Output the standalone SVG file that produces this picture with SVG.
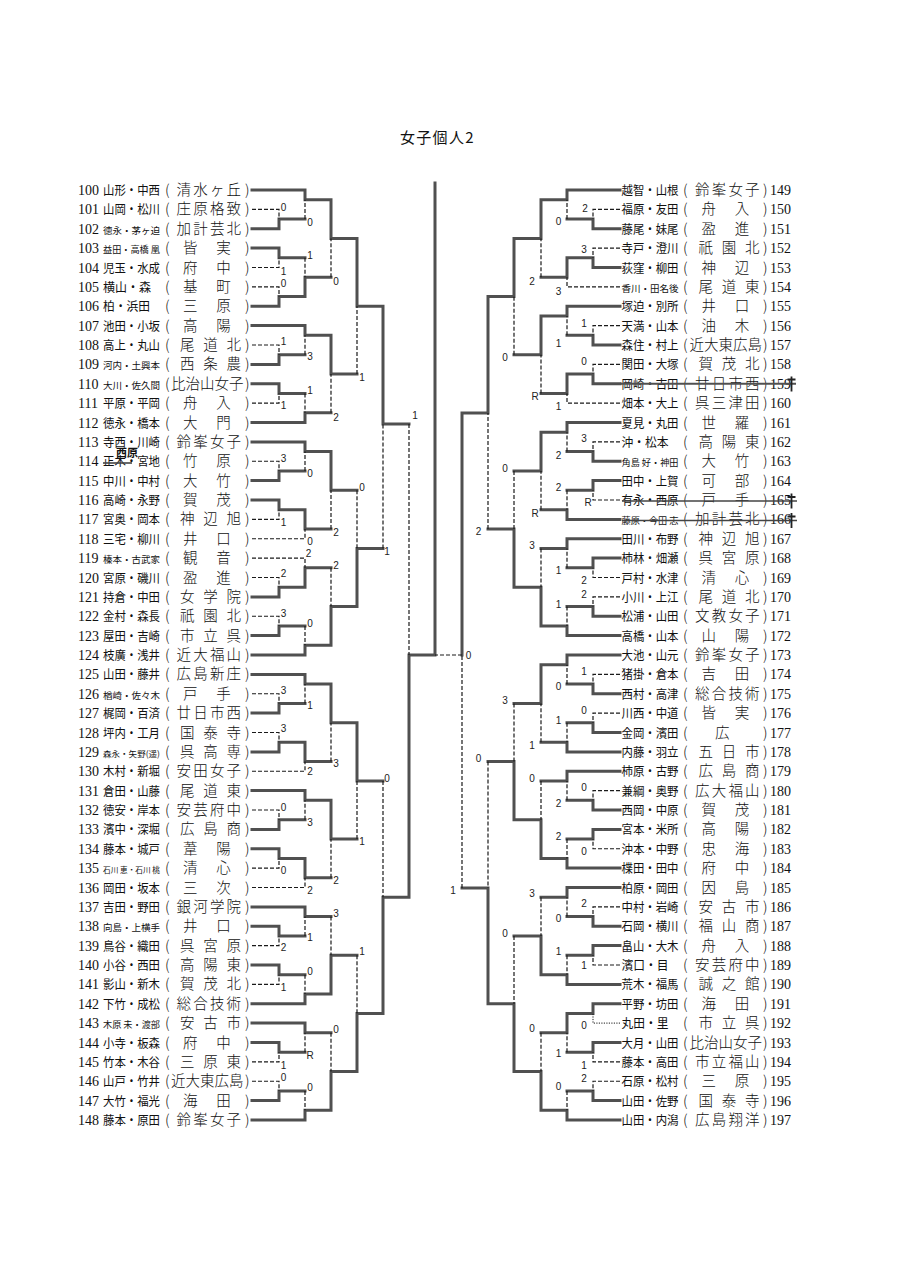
<svg xmlns="http://www.w3.org/2000/svg" width="905" height="1280" viewBox="0 0 905 1280">
<style>
.bg{fill:#fff}
.ttl{font-family:"Noto Sans CJK JP",sans-serif;font-size:15px;fill:#111;letter-spacing:1.3px}
.n{font-family:"Liberation Serif","Noto Sans CJK JP",serif;font-size:14px;fill:#111}
.nm{font-family:"Noto Sans CJK JP",sans-serif;font-size:12.5px;fill:#111}
.ns{font-family:"Noto Sans CJK JP",sans-serif;font-size:9.5px;fill:#111}
.ns2{font-family:"Noto Sans CJK JP",sans-serif;font-size:9px;fill:#111}
.ns3{font-family:"Noto Sans CJK JP",sans-serif;font-size:8.5px;fill:#111}
.ns4{font-family:"Noto Sans CJK JP",sans-serif;font-size:7.5px;fill:#111}
.sc{font-family:"Noto Sans CJK JP",sans-serif;font-size:14.5px;font-weight:300;fill:#111}
.sl{font-family:"Liberation Sans",Arial,sans-serif;font-size:10px;fill:#222;text-anchor:middle}
.w{fill:none;stroke:#505050;stroke-width:3;stroke-linecap:square}
.l{fill:none;stroke:#1a1a1a;stroke-width:1.2;stroke-dasharray:4 2}
.dt{fill:none;stroke:#1a1a1a;stroke-width:1;stroke-dasharray:1.2 1.3}
.st{fill:none;stroke:#444;stroke-width:1.6}
.mk{fill:none;stroke:#222;stroke-width:1.8}
.ann{font-family:"Noto Sans CJK JP",sans-serif;font-size:11px;font-weight:bold;fill:#111}
</style>
<rect class="bg" x="0" y="0" width="905" height="1280"/>
<text id="title" class="ttl" x="400" y="143">女子個人2</text>

<g id="connectors">
<path class="w" d="M252,228.75H279V219.06H305 M252,248.1H279V257.8H305 M252,306.25H279V296.6H305 M252,364.4H279V354.7H305 M252,383.75H279V393.4H305 M252,480.6H279V470.9H305 M252,500H279V509.7H305 M252,596.9H279V587.2H305 M252,635.6H279V625.9H305 M252,713.1H279V703.4H305 M252,751.9H279V742.2H305 M252,829.4H279V819.7H305 M252,848.75H279V858.4H305 M252,926.25H279V935.9H305 M252,965H279V974.7H305 M252,1042.5H279V1052.2H305 M252,1100.6H279V1090.9H305 M252,190H305V199.7H331 M305,296.6V277.2H331 M252,325.6H305V335.3H331 M252,422.5H305V412.8H331 M252,441.9H305V451.6H331 M305,509.7V529.1H331 M305,587.2V567.8H331 M252,655H305V645.3H331 M252,674.4H305V684.1H331 M305,742.2V761.6H331 M252,790.6H305V800.3H331 M305,858.4V877.8H331 M252,906.9H305V916.6H331 M252,1003.75H305V994.1H331 M252,1023.1H305V1032.8H331 M252,1120H305V1110.3H331 M331,199.7V238.4H357 M331,335.3V374.1H357 M331,451.6V490.3H357 M331,645.3V606.6H357 M331,684.1V722.8H357 M331,800.3V839.1H357 M331,994.1V955.3H357 M331,1110.3V1071.6H357 M357,238.4V306.2H383 M357,606.6V548.4H383 M357,722.8V781H383 M357,1071.6V1013.4H383 M383,306.2V424H409 M383,1013.4V897.2H409 M409,897.2V655H435 M435,655V183"/>
<path class="l" d="M252,209.4H279V219.06 M252,267.5H279V257.8 M252,286.9H279V296.6 M252,345H279V354.7 M252,403.1H279V393.4 M252,461.25H279V470.9 M252,519.4H279V509.7 M252,577.5H279V587.2 M252,616.25H279V625.9 M252,693.75H279V703.4 M252,732.5H279V742.2 M252,810H279V819.7 M252,868.1H279V858.4 M252,945.6H279V935.9 M252,984.4H279V974.7 M252,1061.9H279V1052.2 M252,1081.25H279V1090.9 M305,219.06V199.7 M305,257.8V277.2 M305,354.7V335.3 M305,393.4V412.8 M305,470.9V451.6 M252,538.75H305V529.1 M252,558.1H305V567.8 M305,625.9V645.3 M305,703.4V684.1 M252,771.25H305V761.6 M305,819.7V800.3 M252,887.5H305V877.8 M305,935.9V916.6 M305,974.7V994.1 M305,1052.2V1032.8 M305,1090.9V1110.3 M331,277.2V238.4 M331,412.8V374.1 M331,529.1V490.3 M331,567.8V606.6 M331,761.6V722.8 M331,877.8V839.1 M331,916.6V955.3 M331,1032.8V1071.6 M357,374.1V306.2 M357,490.3V548.4 M357,839.1V781 M357,955.3V1013.4 M383,548.4V424 M383,781V897.2 M409,424V655"/>
<path class="w" d="M620,228.75H593V219.06H567 M620,267.5H593V257.8H567 M620,345H593V335.3H567 M620,383.75H593V374.1H567 M620,461.25H593V451.6H567 M620,480.6H593V490.3H567 M620,558.1H593V567.8H567 M620,616.25H593V606.6H567 M620,693.75H593V684.1H567 M620,732.5H593V722.8H567 M620,810H593V800.3H567 M620,829.4H593V839.1H567 M620,926.25H593V916.6H567 M620,945.6H593V955.3H567 M620,1003.75H593V1013.4H567 M620,1042.5H593V1052.2H567 M620,1100.6H593V1090.9H567 M620,190H567V199.7H541 M567,257.8V277.2H541 M620,306.25H567V315.9H541 M567,374.1V393.4H541 M620,422.5H567V432.2H541 M620,519.4H567V509.7H541 M620,538.75H567V548.4H541 M620,635.6H567V625.9H541 M620,655H567V664.7H541 M620,751.9H567V742.2H541 M620,771.25H567V780.9H541 M620,868.1H567V858.4H541 M620,887.5H567V897.2H541 M620,984.4H567V974.7H541 M567,1013.4V1032.8H541 M620,1120H567V1110.3H541 M541,199.7V238.4H514 M541,315.9V354.7H514 M541,432.2V471H514 M541,625.9V587.2H514 M541,664.7V703.4H514 M541,858.4V819.7H514 M541,974.7V935.9H514 M541,1110.3V1071.6H514 M514,238.4V296.6H488 M514,587.2V529.1H488 M514,819.7V761.6H488 M514,1071.6V1003.75H488 M488,296.6V413H462 M488,1003.75V888H462 M462,413V655"/>
<path class="l" d="M620,209.4H593V219.06 M620,248.1H593V257.8 M620,325.6H593V335.3 M620,364.4H593V374.1 M620,441.9H593V451.6 M620,500H593V490.3 M620,577.5H593V567.8 M620,596.9H593V606.6 M620,674.4H593V684.1 M620,713.1H593V722.8 M620,790.6H593V800.3 M620,848.75H593V839.1 M620,906.9H593V916.6 M620,965H593V955.3 M620,1061.9H593V1052.2 M620,1081.25H593V1090.9 M567,219.06V199.7 M620,286.9H567V277.2 M567,335.3V315.9 M620,403.1H567V393.4 M567,451.6V432.2 M567,490.3V509.7 M567,567.8V548.4 M567,606.6V625.9 M567,684.1V664.7 M567,722.8V742.2 M567,800.3V780.9 M567,839.1V858.4 M567,916.6V897.2 M567,955.3V974.7 M567,1052.2V1032.8 M567,1090.9V1110.3 M541,277.2V238.4 M541,393.4V354.7 M541,509.7V471 M541,548.4V587.2 M541,742.2V703.4 M541,780.9V819.7 M541,897.2V935.9 M541,1032.8V1071.6 M514,354.7V296.6 M514,471V529.1 M514,703.4V761.6 M514,935.9V1003.75 M488,529.1V413 M488,761.6V888 M462,888V655 M462,655H435"/>
<path class="dt" d="M620,1023.1H593V1013.4"/>
</g>

<g id="scores">
<text class="sl" x="283.5" y="210.6">0</text><text class="sl" x="283.5" y="275.3">1</text><text class="sl" x="283.5" y="286.6">0</text><text class="sl" x="283.5" y="345.3">1</text><text class="sl" x="283.5" y="408.6">1</text><text class="sl" x="283.5" y="461.6">3</text><text class="sl" x="283.5" y="525.6">1</text><text class="sl" x="283.5" y="576.6">2</text><text class="sl" x="283.5" y="616.6">3</text><text class="sl" x="283.5" y="693.6">3</text><text class="sl" x="283.5" y="731.6">3</text><text class="sl" x="283.5" y="810.6">0</text><text class="sl" x="283.5" y="873.6">0</text><text class="sl" x="283.5" y="950.6">2</text><text class="sl" x="283.5" y="990.6">1</text><text class="sl" x="283.5" y="1068.6">1</text><text class="sl" x="283.5" y="1080.6">0</text>
<text class="sl" x="310" y="225.6">0</text><text class="sl" x="310" y="258.6">1</text><text class="sl" x="310" y="360.3">3</text><text class="sl" x="310" y="393.6">1</text><text class="sl" x="310" y="476.6">0</text><text class="sl" x="310" y="545.3">0</text><text class="sl" x="308.5" y="556.6">2</text><text class="sl" x="310" y="626.6">0</text><text class="sl" x="310" y="708.6">1</text><text class="sl" x="310" y="775.3">2</text><text class="sl" x="310" y="825.6">3</text><text class="sl" x="310" y="893.6">2</text><text class="sl" x="310" y="940.6">1</text><text class="sl" x="310" y="974.6">0</text><text class="sl" x="310" y="1058.6">R</text><text class="sl" x="310" y="1090.6">0</text>
<text class="sl" x="336" y="284.6">0</text><text class="sl" x="336" y="420.6">2</text><text class="sl" x="336" y="535.6">2</text><text class="sl" x="336" y="569.3">2</text><text class="sl" x="336" y="766.6">3</text><text class="sl" x="336" y="883.6">2</text><text class="sl" x="336" y="916.6">3</text><text class="sl" x="336" y="1032.6">0</text>
<text class="sl" x="362" y="380.6">1</text><text class="sl" x="362" y="490.6">0</text><text class="sl" x="362" y="845.3">1</text><text class="sl" x="362" y="955.3">1</text>
<text class="sl" x="387" y="555.3">1</text><text class="sl" x="387" y="781.6">0</text>
<text class="sl" x="415" y="418.6">1</text>
<text class="sl" x="585" y="211.6">2</text><text class="sl" x="584" y="252.6">3</text><text class="sl" x="584" y="326.9">1</text><text class="sl" x="584" y="365.3">0</text><text class="sl" x="584" y="441.9">3</text><text class="sl" x="588" y="506.3">R</text><text class="sl" x="584" y="583.6">2</text><text class="sl" x="584" y="597.9">2</text><text class="sl" x="584" y="674.6">1</text><text class="sl" x="584" y="713.6">0</text><text class="sl" x="584" y="791.3">0</text><text class="sl" x="584" y="855.3">0</text><text class="sl" x="584" y="906.9">2</text><text class="sl" x="584" y="968.6">1</text><text class="sl" x="584" y="1028.6">0</text><text class="sl" x="584" y="1068.6">1</text><text class="sl" x="584" y="1081.9">2</text>
<text class="sl" x="558.5" y="225.3">0</text><text class="sl" x="558.5" y="295.3">3</text><text class="sl" x="558.5" y="346.9">1</text><text class="sl" x="558.5" y="410.3">1</text><text class="sl" x="558.5" y="458.6">2</text><text class="sl" x="558.5" y="491.3">2</text><text class="sl" x="558.5" y="573.6">1</text><text class="sl" x="558.5" y="607.9">1</text><text class="sl" x="558.5" y="690.3">0</text><text class="sl" x="558.5" y="723.6">1</text><text class="sl" x="558.5" y="806.9">2</text><text class="sl" x="558.5" y="840.3">2</text><text class="sl" x="558.5" y="921.9">0</text><text class="sl" x="558.5" y="955.3">1</text><text class="sl" x="558.5" y="1056.9">1</text><text class="sl" x="558.5" y="1090.3">0</text>
<text class="sl" x="532" y="284.6">2</text><text class="sl" x="535" y="400.3">R</text><text class="sl" x="535" y="516.9">R</text><text class="sl" x="532" y="548.6">3</text><text class="sl" x="532" y="748.6">1</text><text class="sl" x="532" y="781.9">0</text><text class="sl" x="532" y="896.9">3</text><text class="sl" x="532" y="1031.9">0</text>
<text class="sl" x="505" y="360.9">0</text><text class="sl" x="505" y="471.9">0</text><text class="sl" x="505" y="703.6">3</text><text class="sl" x="505" y="936.9">0</text>
<text class="sl" x="478.5" y="535.3">2</text><text class="sl" x="478.5" y="761.9">0</text>
<text class="sl" x="453" y="893.6">1</text><text class="sl" x="468.5" y="659.3">0</text>
</g>

<g id="left-entries">
<g id="e100"><text class="n" x="78" y="195">100</text><text class="nm" x="103" y="195" textLength="57" lengthAdjust="spacingAndGlyphs">山形・中西</text><text class="sc" y="195"><tspan x="165">(</tspan><tspan x="176.5 193.2 209.9 226.6">清水ヶ丘</tspan><tspan x="245">)</tspan></text></g>
<g id="e101"><text class="n" x="78" y="214.4">101</text><text class="nm" x="103" y="214.4" textLength="57" lengthAdjust="spacingAndGlyphs">山岡・松川</text><text class="sc" y="214.4"><tspan x="165">(</tspan><tspan x="176.5 193.2 209.9 226.6">庄原格致</tspan><tspan x="245">)</tspan></text></g>
<g id="e102"><text class="n" x="78" y="233.75">102</text><text class="ns" x="103" y="233.75" textLength="57" lengthAdjust="spacingAndGlyphs">徳永・茅ヶ迫</text><text class="sc" y="233.75"><tspan x="165">(</tspan><tspan x="176.5 193.2 209.9 226.6">加計芸北</tspan><tspan x="245">)</tspan></text></g>
<g id="e103"><text class="n" x="78" y="253.1">103</text><text class="ns2" x="103" y="253.1" textLength="57" lengthAdjust="spacingAndGlyphs">益田・高橋 凰</text><text class="sc" y="253.1"><tspan x="165">(</tspan><tspan x="183 216.3">皆実</tspan><tspan x="245">)</tspan></text></g>
<g id="e104"><text class="n" x="78" y="272.5">104</text><text class="nm" x="103" y="272.5" textLength="57" lengthAdjust="spacingAndGlyphs">児玉・水成</text><text class="sc" y="272.5"><tspan x="165">(</tspan><tspan x="183 216.3">府中</tspan><tspan x="245">)</tspan></text></g>
<g id="e105"><text class="n" x="78" y="291.9">105</text><text class="nm" x="103" y="291.9" textLength="48" lengthAdjust="spacingAndGlyphs">横山・森</text><text class="sc" y="291.9"><tspan x="165">(</tspan><tspan x="183 216.3">基町</tspan><tspan x="245">)</tspan></text></g>
<g id="e106"><text class="n" x="78" y="311.25">106</text><text class="nm" x="103" y="311.25" textLength="47" lengthAdjust="spacingAndGlyphs">柏・浜田</text><text class="sc" y="311.25"><tspan x="165">(</tspan><tspan x="183 216.3">三原</tspan><tspan x="245">)</tspan></text></g>
<g id="e107"><text class="n" x="78" y="330.6">107</text><text class="nm" x="103" y="330.6" textLength="57" lengthAdjust="spacingAndGlyphs">池田・小坂</text><text class="sc" y="330.6"><tspan x="165">(</tspan><tspan x="183 216.3">高陽</tspan><tspan x="245">)</tspan></text></g>
<g id="e108"><text class="n" x="78" y="350">108</text><text class="nm" x="103" y="350" textLength="57" lengthAdjust="spacingAndGlyphs">高上・丸山</text><text class="sc" y="350"><tspan x="165">(</tspan><tspan x="180 203.3 226.6">尾道北</tspan><tspan x="245">)</tspan></text></g>
<g id="e109"><text class="n" x="78" y="369.4">109</text><text class="ns" x="103" y="369.4" textLength="57" lengthAdjust="spacingAndGlyphs">河内・土興本</text><text class="sc" y="369.4"><tspan x="165">(</tspan><tspan x="180 203.3 226.6">西条農</tspan><tspan x="245">)</tspan></text></g>
<g id="e110"><text class="n" x="78" y="388.75">110</text><text class="ns" x="103" y="388.75" textLength="57" lengthAdjust="spacingAndGlyphs">大川・佐久間</text><text class="sc" y="388.75"><tspan x="165">(</tspan><tspan x="171 185.5 200 214.5 229">比治山女子</tspan><tspan x="245">)</tspan></text></g>
<g id="e111"><text class="n" x="78" y="408.1">111</text><text class="nm" x="103" y="408.1" textLength="57" lengthAdjust="spacingAndGlyphs">平原・平岡</text><text class="sc" y="408.1"><tspan x="165">(</tspan><tspan x="183 216.3">舟入</tspan><tspan x="245">)</tspan></text></g>
<g id="e112"><text class="n" x="78" y="427.5">112</text><text class="nm" x="103" y="427.5" textLength="57" lengthAdjust="spacingAndGlyphs">徳永・橋本</text><text class="sc" y="427.5"><tspan x="165">(</tspan><tspan x="183 216.3">大門</tspan><tspan x="245">)</tspan></text></g>
<g id="e113"><text class="n" x="78" y="446.9">113</text><text class="nm" x="103" y="446.9" textLength="57" lengthAdjust="spacingAndGlyphs">寺西・川崎</text><text class="sc" y="446.9"><tspan x="165">(</tspan><tspan x="176.5 193.2 209.9 226.6">鈴峯女子</tspan><tspan x="245">)</tspan></text></g>
<g id="e114"><text class="n" x="78" y="466.25">114</text><text class="nm" x="103" y="466.25" textLength="57" lengthAdjust="spacingAndGlyphs">正木・宮地</text><text class="sc" y="466.25"><tspan x="165">(</tspan><tspan x="183 216.3">竹原</tspan><tspan x="245">)</tspan></text><path class="st" d="M103,463H132"/><text class="ann" x="116" y="456.5">西原</text></g>
<g id="e115"><text class="n" x="78" y="485.6">115</text><text class="nm" x="103" y="485.6" textLength="57" lengthAdjust="spacingAndGlyphs">中川・中村</text><text class="sc" y="485.6"><tspan x="165">(</tspan><tspan x="183 216.3">大竹</tspan><tspan x="245">)</tspan></text></g>
<g id="e116"><text class="n" x="78" y="505">116</text><text class="nm" x="103" y="505" textLength="57" lengthAdjust="spacingAndGlyphs">高崎・永野</text><text class="sc" y="505"><tspan x="165">(</tspan><tspan x="183 216.3">賀茂</tspan><tspan x="245">)</tspan></text></g>
<g id="e117"><text class="n" x="78" y="524.4">117</text><text class="nm" x="103" y="524.4" textLength="57" lengthAdjust="spacingAndGlyphs">宮奥・岡本</text><text class="sc" y="524.4"><tspan x="165">(</tspan><tspan x="180 203.3 226.6">神辺旭</tspan><tspan x="245">)</tspan></text></g>
<g id="e118"><text class="n" x="78" y="543.75">118</text><text class="nm" x="103" y="543.75" textLength="57" lengthAdjust="spacingAndGlyphs">三宅・柳川</text><text class="sc" y="543.75"><tspan x="165">(</tspan><tspan x="183 216.3">井口</tspan><tspan x="245">)</tspan></text></g>
<g id="e119"><text class="n" x="78" y="563.1">119</text><text class="ns" x="103" y="563.1" textLength="57" lengthAdjust="spacingAndGlyphs">榛本・古武家</text><text class="sc" y="563.1"><tspan x="165">(</tspan><tspan x="183 216.3">観音</tspan><tspan x="245">)</tspan></text></g>
<g id="e120"><text class="n" x="78" y="582.5">120</text><text class="nm" x="103" y="582.5" textLength="57" lengthAdjust="spacingAndGlyphs">宮原・磯川</text><text class="sc" y="582.5"><tspan x="165">(</tspan><tspan x="183 216.3">盈進</tspan><tspan x="245">)</tspan></text></g>
<g id="e121"><text class="n" x="78" y="601.9">121</text><text class="nm" x="103" y="601.9" textLength="57" lengthAdjust="spacingAndGlyphs">持倉・中田</text><text class="sc" y="601.9"><tspan x="165">(</tspan><tspan x="180 203.3 226.6">女学院</tspan><tspan x="245">)</tspan></text></g>
<g id="e122"><text class="n" x="78" y="621.25">122</text><text class="nm" x="103" y="621.25" textLength="57" lengthAdjust="spacingAndGlyphs">金村・森長</text><text class="sc" y="621.25"><tspan x="165">(</tspan><tspan x="180 203.3 226.6">祇園北</tspan><tspan x="245">)</tspan></text></g>
<g id="e123"><text class="n" x="78" y="640.6">123</text><text class="nm" x="103" y="640.6" textLength="57" lengthAdjust="spacingAndGlyphs">屋田・吉崎</text><text class="sc" y="640.6"><tspan x="165">(</tspan><tspan x="180 203.3 226.6">市立呉</tspan><tspan x="245">)</tspan></text></g>
<g id="e124"><text class="n" x="78" y="660">124</text><text class="nm" x="103" y="660" textLength="57" lengthAdjust="spacingAndGlyphs">枝廣・浅井</text><text class="sc" y="660"><tspan x="165">(</tspan><tspan x="176.5 193.2 209.9 226.6">近大福山</tspan><tspan x="245">)</tspan></text></g>
<g id="e125"><text class="n" x="78" y="679.4">125</text><text class="nm" x="103" y="679.4" textLength="57" lengthAdjust="spacingAndGlyphs">山田・藤井</text><text class="sc" y="679.4"><tspan x="165">(</tspan><tspan x="176.5 193.2 209.9 226.6">広島新庄</tspan><tspan x="245">)</tspan></text></g>
<g id="e126"><text class="n" x="78" y="698.75">126</text><text class="ns" x="103" y="698.75" textLength="57" lengthAdjust="spacingAndGlyphs">楢崎・佐々木</text><text class="sc" y="698.75"><tspan x="165">(</tspan><tspan x="183 216.3">戸手</tspan><tspan x="245">)</tspan></text></g>
<g id="e127"><text class="n" x="78" y="718.1">127</text><text class="nm" x="103" y="718.1" textLength="57" lengthAdjust="spacingAndGlyphs">梶岡・百済</text><text class="sc" y="718.1"><tspan x="165">(</tspan><tspan x="176.5 193.2 209.9 226.6">廿日市西</tspan><tspan x="245">)</tspan></text></g>
<g id="e128"><text class="n" x="78" y="737.5">128</text><text class="nm" x="103" y="737.5" textLength="57" lengthAdjust="spacingAndGlyphs">坪内・工月</text><text class="sc" y="737.5"><tspan x="165">(</tspan><tspan x="180 203.3 226.6">国泰寺</tspan><tspan x="245">)</tspan></text></g>
<g id="e129"><text class="n" x="78" y="756.9">129</text><text class="ns3" x="103" y="756.9" textLength="57" lengthAdjust="spacingAndGlyphs">森永・矢野(遥)</text><text class="sc" y="756.9"><tspan x="165">(</tspan><tspan x="180 203.3 226.6">呉高専</tspan><tspan x="245">)</tspan></text></g>
<g id="e130"><text class="n" x="78" y="776.25">130</text><text class="nm" x="103" y="776.25" textLength="57" lengthAdjust="spacingAndGlyphs">木村・新堀</text><text class="sc" y="776.25"><tspan x="165">(</tspan><tspan x="176.5 193.2 209.9 226.6">安田女子</tspan><tspan x="245">)</tspan></text></g>
<g id="e131"><text class="n" x="78" y="795.6">131</text><text class="nm" x="103" y="795.6" textLength="57" lengthAdjust="spacingAndGlyphs">倉田・山藤</text><text class="sc" y="795.6"><tspan x="165">(</tspan><tspan x="180 203.3 226.6">尾道東</tspan><tspan x="245">)</tspan></text></g>
<g id="e132"><text class="n" x="78" y="815">132</text><text class="nm" x="103" y="815" textLength="57" lengthAdjust="spacingAndGlyphs">徳安・岸本</text><text class="sc" y="815"><tspan x="165">(</tspan><tspan x="176.5 193.2 209.9 226.6">安芸府中</tspan><tspan x="245">)</tspan></text></g>
<g id="e133"><text class="n" x="78" y="834.4">133</text><text class="nm" x="103" y="834.4" textLength="57" lengthAdjust="spacingAndGlyphs">濱中・深堀</text><text class="sc" y="834.4"><tspan x="165">(</tspan><tspan x="180 203.3 226.6">広島商</tspan><tspan x="245">)</tspan></text></g>
<g id="e134"><text class="n" x="78" y="853.75">134</text><text class="nm" x="103" y="853.75" textLength="57" lengthAdjust="spacingAndGlyphs">藤本・城戸</text><text class="sc" y="853.75"><tspan x="165">(</tspan><tspan x="183 216.3">葦陽</tspan><tspan x="245">)</tspan></text></g>
<g id="e135"><text class="n" x="78" y="873.1">135</text><text class="ns4" x="103" y="873.1" textLength="57" lengthAdjust="spacingAndGlyphs">石川 恵・石川 桃</text><text class="sc" y="873.1"><tspan x="165">(</tspan><tspan x="183 216.3">清心</tspan><tspan x="245">)</tspan></text></g>
<g id="e136"><text class="n" x="78" y="892.5">136</text><text class="nm" x="103" y="892.5" textLength="57" lengthAdjust="spacingAndGlyphs">岡田・坂本</text><text class="sc" y="892.5"><tspan x="165">(</tspan><tspan x="183 216.3">三次</tspan><tspan x="245">)</tspan></text></g>
<g id="e137"><text class="n" x="78" y="911.9">137</text><text class="nm" x="103" y="911.9" textLength="57" lengthAdjust="spacingAndGlyphs">吉田・野田</text><text class="sc" y="911.9"><tspan x="165">(</tspan><tspan x="176.5 193.2 209.9 226.6">銀河学院</tspan><tspan x="245">)</tspan></text></g>
<g id="e138"><text class="n" x="78" y="931.25">138</text><text class="ns" x="103" y="931.25" textLength="57" lengthAdjust="spacingAndGlyphs">向島・上横手</text><text class="sc" y="931.25"><tspan x="165">(</tspan><tspan x="183 216.3">井口</tspan><tspan x="245">)</tspan></text></g>
<g id="e139"><text class="n" x="78" y="950.6">139</text><text class="nm" x="103" y="950.6" textLength="57" lengthAdjust="spacingAndGlyphs">鳥谷・織田</text><text class="sc" y="950.6"><tspan x="165">(</tspan><tspan x="180 203.3 226.6">呉宮原</tspan><tspan x="245">)</tspan></text></g>
<g id="e140"><text class="n" x="78" y="970">140</text><text class="nm" x="103" y="970" textLength="57" lengthAdjust="spacingAndGlyphs">小谷・西田</text><text class="sc" y="970"><tspan x="165">(</tspan><tspan x="180 203.3 226.6">高陽東</tspan><tspan x="245">)</tspan></text></g>
<g id="e141"><text class="n" x="78" y="989.4">141</text><text class="nm" x="103" y="989.4" textLength="57" lengthAdjust="spacingAndGlyphs">影山・新木</text><text class="sc" y="989.4"><tspan x="165">(</tspan><tspan x="180 203.3 226.6">賀茂北</tspan><tspan x="245">)</tspan></text></g>
<g id="e142"><text class="n" x="78" y="1008.75">142</text><text class="nm" x="103" y="1008.75" textLength="57" lengthAdjust="spacingAndGlyphs">下竹・成松</text><text class="sc" y="1008.75"><tspan x="165">(</tspan><tspan x="176.5 193.2 209.9 226.6">総合技術</tspan><tspan x="245">)</tspan></text></g>
<g id="e143"><text class="n" x="78" y="1028.1">143</text><text class="ns2" x="103" y="1028.1" textLength="57" lengthAdjust="spacingAndGlyphs">木原 未・渡部</text><text class="sc" y="1028.1"><tspan x="165">(</tspan><tspan x="180 203.3 226.6">安古市</tspan><tspan x="245">)</tspan></text></g>
<g id="e144"><text class="n" x="78" y="1047.5">144</text><text class="nm" x="103" y="1047.5" textLength="57" lengthAdjust="spacingAndGlyphs">小寺・板森</text><text class="sc" y="1047.5"><tspan x="165">(</tspan><tspan x="183 216.3">府中</tspan><tspan x="245">)</tspan></text></g>
<g id="e145"><text class="n" x="78" y="1066.9">145</text><text class="nm" x="103" y="1066.9" textLength="57" lengthAdjust="spacingAndGlyphs">竹本・木谷</text><text class="sc" y="1066.9"><tspan x="165">(</tspan><tspan x="180 203.3 226.6">三原東</tspan><tspan x="245">)</tspan></text></g>
<g id="e146"><text class="n" x="78" y="1086.25">146</text><text class="nm" x="103" y="1086.25" textLength="57" lengthAdjust="spacingAndGlyphs">山戸・竹井</text><text class="sc" y="1086.25"><tspan x="165">(</tspan><tspan x="171 185.5 200 214.5 229">近大東広島</tspan><tspan x="245">)</tspan></text></g>
<g id="e147"><text class="n" x="78" y="1105.6">147</text><text class="nm" x="103" y="1105.6" textLength="57" lengthAdjust="spacingAndGlyphs">大竹・福光</text><text class="sc" y="1105.6"><tspan x="165">(</tspan><tspan x="183 216.3">海田</tspan><tspan x="245">)</tspan></text></g>
<g id="e148"><text class="n" x="78" y="1125">148</text><text class="nm" x="103" y="1125" textLength="57" lengthAdjust="spacingAndGlyphs">藤本・原田</text><text class="sc" y="1125"><tspan x="165">(</tspan><tspan x="176.5 193.2 209.9 226.6">鈴峯女子</tspan><tspan x="245">)</tspan></text></g>
</g>

<g id="right-entries">
<g id="e149"><text class="nm" x="621.5" y="195" textLength="57" lengthAdjust="spacingAndGlyphs">越智・山根</text><text class="sc" y="195"><tspan x="683">(</tspan><tspan x="695 711.7 728.4 745.1">鈴峯女子</tspan><tspan x="763">)</tspan></text><text class="n" x="770" y="195">149</text></g>
<g id="e150"><text class="nm" x="621.5" y="214.4" textLength="57" lengthAdjust="spacingAndGlyphs">福原・友田</text><text class="sc" y="214.4"><tspan x="683">(</tspan><tspan x="701.5 734.8">舟入</tspan><tspan x="763">)</tspan></text><text class="n" x="770" y="214.4">150</text></g>
<g id="e151"><text class="nm" x="621.5" y="233.75" textLength="57" lengthAdjust="spacingAndGlyphs">藤尾・妹尾</text><text class="sc" y="233.75"><tspan x="683">(</tspan><tspan x="701.5 734.8">盈進</tspan><tspan x="763">)</tspan></text><text class="n" x="770" y="233.75">151</text></g>
<g id="e152"><text class="nm" x="621.5" y="253.1" textLength="57" lengthAdjust="spacingAndGlyphs">寺戸・澄川</text><text class="sc" y="253.1"><tspan x="683">(</tspan><tspan x="698.5 721.8 745.1">祇園北</tspan><tspan x="763">)</tspan></text><text class="n" x="770" y="253.1">152</text></g>
<g id="e153"><text class="nm" x="621.5" y="272.5" textLength="57" lengthAdjust="spacingAndGlyphs">荻窪・柳田</text><text class="sc" y="272.5"><tspan x="683">(</tspan><tspan x="701.5 734.8">神辺</tspan><tspan x="763">)</tspan></text><text class="n" x="770" y="272.5">153</text></g>
<g id="e154"><text class="ns" x="621.5" y="291.9" textLength="57" lengthAdjust="spacingAndGlyphs">香川・田名後</text><text class="sc" y="291.9"><tspan x="683">(</tspan><tspan x="698.5 721.8 745.1">尾道東</tspan><tspan x="763">)</tspan></text><text class="n" x="770" y="291.9">154</text></g>
<g id="e155"><text class="nm" x="621.5" y="311.25" textLength="57" lengthAdjust="spacingAndGlyphs">塚迫・別所</text><text class="sc" y="311.25"><tspan x="683">(</tspan><tspan x="701.5 734.8">井口</tspan><tspan x="763">)</tspan></text><text class="n" x="770" y="311.25">155</text></g>
<g id="e156"><text class="nm" x="621.5" y="330.6" textLength="57" lengthAdjust="spacingAndGlyphs">天満・山本</text><text class="sc" y="330.6"><tspan x="683">(</tspan><tspan x="701.5 734.8">油木</tspan><tspan x="763">)</tspan></text><text class="n" x="770" y="330.6">156</text></g>
<g id="e157"><text class="nm" x="621.5" y="350" textLength="57" lengthAdjust="spacingAndGlyphs">森住・村上</text><text class="sc" y="350"><tspan x="683">(</tspan><tspan x="689.5 704 718.5 733 747.5">近大東広島</tspan><tspan x="763">)</tspan></text><text class="n" x="770" y="350">157</text></g>
<g id="e158"><text class="nm" x="621.5" y="369.4" textLength="57" lengthAdjust="spacingAndGlyphs">関田・大塚</text><text class="sc" y="369.4"><tspan x="683">(</tspan><tspan x="698.5 721.8 745.1">賀茂北</tspan><tspan x="763">)</tspan></text><text class="n" x="770" y="369.4">158</text></g>
<g id="e159"><text class="nm" x="621.5" y="388.75" textLength="57" lengthAdjust="spacingAndGlyphs">岡崎・古田</text><text class="sc" y="388.75"><tspan x="683">(</tspan><tspan x="695 711.7 728.4 745.1">廿日市西</tspan><tspan x="763">)</tspan></text><text class="n" x="770" y="388.75">159</text><path class="w" d="M620,383.75H796" style="stroke-width:2;stroke-linecap:butt"/><path class="mk" d="M791.5,376.5V391.5M787.5,379.5H795.5"/></g>
<g id="e160"><text class="nm" x="621.5" y="408.1" textLength="57" lengthAdjust="spacingAndGlyphs">畑本・大上</text><text class="sc" y="408.1"><tspan x="683">(</tspan><tspan x="695 711.7 728.4 745.1">呉三津田</tspan><tspan x="763">)</tspan></text><text class="n" x="770" y="408.1">160</text></g>
<g id="e161"><text class="nm" x="621.5" y="427.5" textLength="57" lengthAdjust="spacingAndGlyphs">夏見・丸田</text><text class="sc" y="427.5"><tspan x="683">(</tspan><tspan x="701.5 734.8">世羅</tspan><tspan x="763">)</tspan></text><text class="n" x="770" y="427.5">161</text></g>
<g id="e162"><text class="nm" x="621.5" y="446.9" textLength="47" lengthAdjust="spacingAndGlyphs">沖・松本</text><text class="sc" y="446.9"><tspan x="683">(</tspan><tspan x="698.5 721.8 745.1">高陽東</tspan><tspan x="763">)</tspan></text><text class="n" x="770" y="446.9">162</text></g>
<g id="e163"><text class="ns2" x="621.5" y="466.25" textLength="57" lengthAdjust="spacingAndGlyphs">角島 好・神田</text><text class="sc" y="466.25"><tspan x="683">(</tspan><tspan x="701.5 734.8">大竹</tspan><tspan x="763">)</tspan></text><text class="n" x="770" y="466.25">163</text></g>
<g id="e164"><text class="nm" x="621.5" y="485.6" textLength="57" lengthAdjust="spacingAndGlyphs">田中・上賀</text><text class="sc" y="485.6"><tspan x="683">(</tspan><tspan x="701.5 734.8">可部</tspan><tspan x="763">)</tspan></text><text class="n" x="770" y="485.6">164</text></g>
<g id="e165"><text class="nm" x="621.5" y="505" textLength="57" lengthAdjust="spacingAndGlyphs">有永・西原</text><text class="sc" y="505"><tspan x="683">(</tspan><tspan x="701.5 734.8">戸手</tspan><tspan x="763">)</tspan></text><text class="n" x="770" y="505">165</text><path class="st" d="M622,501H797"/><path class="mk" d="M791.5,493.5V508.5M787.5,497H795.5"/></g>
<g id="e166"><text class="ns2" x="621.5" y="524.4" textLength="57" lengthAdjust="spacingAndGlyphs">藤原・今田 志</text><text class="sc" y="524.4"><tspan x="683">(</tspan><tspan x="695 711.7 728.4 745.1">加計芸北</tspan><tspan x="763">)</tspan></text><text class="n" x="770" y="524.4">166</text><path class="st" d="M622,520.5H797"/><path class="mk" d="M791.5,513V528M787.5,516.5H795.5"/></g>
<g id="e167"><text class="nm" x="621.5" y="543.75" textLength="57" lengthAdjust="spacingAndGlyphs">田川・布野</text><text class="sc" y="543.75"><tspan x="683">(</tspan><tspan x="698.5 721.8 745.1">神辺旭</tspan><tspan x="763">)</tspan></text><text class="n" x="770" y="543.75">167</text></g>
<g id="e168"><text class="nm" x="621.5" y="563.1" textLength="57" lengthAdjust="spacingAndGlyphs">柿林・畑瀬</text><text class="sc" y="563.1"><tspan x="683">(</tspan><tspan x="698.5 721.8 745.1">呉宮原</tspan><tspan x="763">)</tspan></text><text class="n" x="770" y="563.1">168</text></g>
<g id="e169"><text class="nm" x="621.5" y="582.5" textLength="57" lengthAdjust="spacingAndGlyphs">戸村・水津</text><text class="sc" y="582.5"><tspan x="683">(</tspan><tspan x="701.5 734.8">清心</tspan><tspan x="763">)</tspan></text><text class="n" x="770" y="582.5">169</text></g>
<g id="e170"><text class="nm" x="621.5" y="601.9" textLength="57" lengthAdjust="spacingAndGlyphs">小川・上江</text><text class="sc" y="601.9"><tspan x="683">(</tspan><tspan x="698.5 721.8 745.1">尾道北</tspan><tspan x="763">)</tspan></text><text class="n" x="770" y="601.9">170</text></g>
<g id="e171"><text class="nm" x="621.5" y="621.25" textLength="57" lengthAdjust="spacingAndGlyphs">松浦・山田</text><text class="sc" y="621.25"><tspan x="683">(</tspan><tspan x="695 711.7 728.4 745.1">文教女子</tspan><tspan x="763">)</tspan></text><text class="n" x="770" y="621.25">171</text></g>
<g id="e172"><text class="nm" x="621.5" y="640.6" textLength="57" lengthAdjust="spacingAndGlyphs">高橋・山本</text><text class="sc" y="640.6"><tspan x="683">(</tspan><tspan x="701.5 734.8">山陽</tspan><tspan x="763">)</tspan></text><text class="n" x="770" y="640.6">172</text></g>
<g id="e173"><text class="nm" x="621.5" y="660" textLength="57" lengthAdjust="spacingAndGlyphs">大池・山元</text><text class="sc" y="660"><tspan x="683">(</tspan><tspan x="695 711.7 728.4 745.1">鈴峯女子</tspan><tspan x="763">)</tspan></text><text class="n" x="770" y="660">173</text></g>
<g id="e174"><text class="nm" x="621.5" y="679.4" textLength="57" lengthAdjust="spacingAndGlyphs">猪掛・倉本</text><text class="sc" y="679.4"><tspan x="683">(</tspan><tspan x="701.5 734.8">吉田</tspan><tspan x="763">)</tspan></text><text class="n" x="770" y="679.4">174</text></g>
<g id="e175"><text class="nm" x="621.5" y="698.75" textLength="57" lengthAdjust="spacingAndGlyphs">西村・高津</text><text class="sc" y="698.75"><tspan x="683">(</tspan><tspan x="695 711.7 728.4 745.1">総合技術</tspan><tspan x="763">)</tspan></text><text class="n" x="770" y="698.75">175</text></g>
<g id="e176"><text class="nm" x="621.5" y="718.1" textLength="57" lengthAdjust="spacingAndGlyphs">川西・中道</text><text class="sc" y="718.1"><tspan x="683">(</tspan><tspan x="701.5 734.8">皆実</tspan><tspan x="763">)</tspan></text><text class="n" x="770" y="718.1">176</text></g>
<g id="e177"><text class="nm" x="621.5" y="737.5" textLength="57" lengthAdjust="spacingAndGlyphs">金岡・濱田</text><text class="sc" y="737.5"><tspan x="683">(</tspan><tspan x="715">広</tspan><tspan x="763">)</tspan></text><text class="n" x="770" y="737.5">177</text></g>
<g id="e178"><text class="nm" x="621.5" y="756.9" textLength="57" lengthAdjust="spacingAndGlyphs">内藤・羽立</text><text class="sc" y="756.9"><tspan x="683">(</tspan><tspan x="698.5 721.8 745.1">五日市</tspan><tspan x="763">)</tspan></text><text class="n" x="770" y="756.9">178</text></g>
<g id="e179"><text class="nm" x="621.5" y="776.25" textLength="57" lengthAdjust="spacingAndGlyphs">柿原・古野</text><text class="sc" y="776.25"><tspan x="683">(</tspan><tspan x="698.5 721.8 745.1">広島商</tspan><tspan x="763">)</tspan></text><text class="n" x="770" y="776.25">179</text></g>
<g id="e180"><text class="nm" x="621.5" y="795.6" textLength="57" lengthAdjust="spacingAndGlyphs">兼綱・奥野</text><text class="sc" y="795.6"><tspan x="683">(</tspan><tspan x="695 711.7 728.4 745.1">広大福山</tspan><tspan x="763">)</tspan></text><text class="n" x="770" y="795.6">180</text></g>
<g id="e181"><text class="nm" x="621.5" y="815" textLength="57" lengthAdjust="spacingAndGlyphs">西岡・中原</text><text class="sc" y="815"><tspan x="683">(</tspan><tspan x="701.5 734.8">賀茂</tspan><tspan x="763">)</tspan></text><text class="n" x="770" y="815">181</text></g>
<g id="e182"><text class="nm" x="621.5" y="834.4" textLength="57" lengthAdjust="spacingAndGlyphs">宮本・米所</text><text class="sc" y="834.4"><tspan x="683">(</tspan><tspan x="701.5 734.8">高陽</tspan><tspan x="763">)</tspan></text><text class="n" x="770" y="834.4">182</text></g>
<g id="e183"><text class="nm" x="621.5" y="853.75" textLength="57" lengthAdjust="spacingAndGlyphs">沖本・中野</text><text class="sc" y="853.75"><tspan x="683">(</tspan><tspan x="701.5 734.8">忠海</tspan><tspan x="763">)</tspan></text><text class="n" x="770" y="853.75">183</text></g>
<g id="e184"><text class="nm" x="621.5" y="873.1" textLength="57" lengthAdjust="spacingAndGlyphs">楪田・田中</text><text class="sc" y="873.1"><tspan x="683">(</tspan><tspan x="701.5 734.8">府中</tspan><tspan x="763">)</tspan></text><text class="n" x="770" y="873.1">184</text></g>
<g id="e185"><text class="nm" x="621.5" y="892.5" textLength="57" lengthAdjust="spacingAndGlyphs">柏原・岡田</text><text class="sc" y="892.5"><tspan x="683">(</tspan><tspan x="701.5 734.8">因島</tspan><tspan x="763">)</tspan></text><text class="n" x="770" y="892.5">185</text></g>
<g id="e186"><text class="nm" x="621.5" y="911.9" textLength="57" lengthAdjust="spacingAndGlyphs">中村・岩崎</text><text class="sc" y="911.9"><tspan x="683">(</tspan><tspan x="698.5 721.8 745.1">安古市</tspan><tspan x="763">)</tspan></text><text class="n" x="770" y="911.9">186</text></g>
<g id="e187"><text class="nm" x="621.5" y="931.25" textLength="57" lengthAdjust="spacingAndGlyphs">石岡・横川</text><text class="sc" y="931.25"><tspan x="683">(</tspan><tspan x="698.5 721.8 745.1">福山商</tspan><tspan x="763">)</tspan></text><text class="n" x="770" y="931.25">187</text></g>
<g id="e188"><text class="nm" x="621.5" y="950.6" textLength="57" lengthAdjust="spacingAndGlyphs">畠山・大木</text><text class="sc" y="950.6"><tspan x="683">(</tspan><tspan x="701.5 734.8">舟入</tspan><tspan x="763">)</tspan></text><text class="n" x="770" y="950.6">188</text></g>
<g id="e189"><text class="nm" x="621.5" y="970" textLength="47" lengthAdjust="spacingAndGlyphs">濱口・目</text><text class="sc" y="970"><tspan x="683">(</tspan><tspan x="695 711.7 728.4 745.1">安芸府中</tspan><tspan x="763">)</tspan></text><text class="n" x="770" y="970">189</text></g>
<g id="e190"><text class="nm" x="621.5" y="989.4" textLength="57" lengthAdjust="spacingAndGlyphs">荒木・福馬</text><text class="sc" y="989.4"><tspan x="683">(</tspan><tspan x="698.5 721.8 745.1">誠之館</tspan><tspan x="763">)</tspan></text><text class="n" x="770" y="989.4">190</text></g>
<g id="e191"><text class="nm" x="621.5" y="1008.75" textLength="57" lengthAdjust="spacingAndGlyphs">平野・坊田</text><text class="sc" y="1008.75"><tspan x="683">(</tspan><tspan x="701.5 734.8">海田</tspan><tspan x="763">)</tspan></text><text class="n" x="770" y="1008.75">191</text></g>
<g id="e192"><text class="nm" x="621.5" y="1028.1" textLength="47" lengthAdjust="spacingAndGlyphs">丸田・里</text><text class="sc" y="1028.1"><tspan x="683">(</tspan><tspan x="698.5 721.8 745.1">市立呉</tspan><tspan x="763">)</tspan></text><text class="n" x="770" y="1028.1">192</text></g>
<g id="e193"><text class="nm" x="621.5" y="1047.5" textLength="57" lengthAdjust="spacingAndGlyphs">大月・山田</text><text class="sc" y="1047.5"><tspan x="683">(</tspan><tspan x="689.5 704 718.5 733 747.5">比治山女子</tspan><tspan x="763">)</tspan></text><text class="n" x="770" y="1047.5">193</text></g>
<g id="e194"><text class="nm" x="621.5" y="1066.9" textLength="57" lengthAdjust="spacingAndGlyphs">藤本・高田</text><text class="sc" y="1066.9"><tspan x="683">(</tspan><tspan x="695 711.7 728.4 745.1">市立福山</tspan><tspan x="763">)</tspan></text><text class="n" x="770" y="1066.9">194</text></g>
<g id="e195"><text class="nm" x="621.5" y="1086.25" textLength="57" lengthAdjust="spacingAndGlyphs">石原・松村</text><text class="sc" y="1086.25"><tspan x="683">(</tspan><tspan x="701.5 734.8">三原</tspan><tspan x="763">)</tspan></text><text class="n" x="770" y="1086.25">195</text></g>
<g id="e196"><text class="nm" x="621.5" y="1105.6" textLength="57" lengthAdjust="spacingAndGlyphs">山田・佐野</text><text class="sc" y="1105.6"><tspan x="683">(</tspan><tspan x="698.5 721.8 745.1">国泰寺</tspan><tspan x="763">)</tspan></text><text class="n" x="770" y="1105.6">196</text></g>
<g id="e197"><text class="nm" x="621.5" y="1125" textLength="57" lengthAdjust="spacingAndGlyphs">山田・内潟</text><text class="sc" y="1125"><tspan x="683">(</tspan><tspan x="695 711.7 728.4 745.1">広島翔洋</tspan><tspan x="763">)</tspan></text><text class="n" x="770" y="1125">197</text></g>
</g>
</svg>
